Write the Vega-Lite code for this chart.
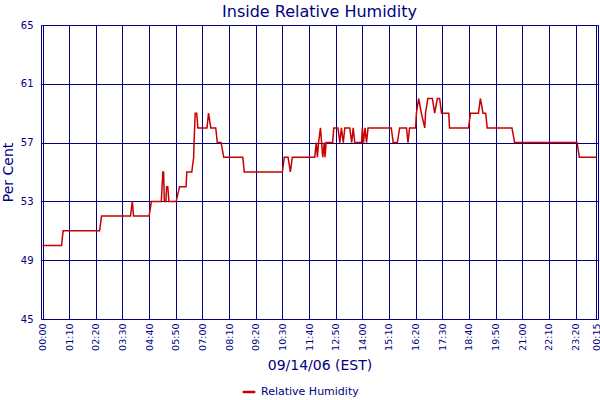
{
  "$schema": "https://vega.github.io/schema/vega-lite/v6.json",
  "background": "white",
  "autosize": "none",
  "padding": {"left": 41, "top": 25, "right": 2, "bottom": 81},
  "width": 557,
  "height": 294,
  "title": {
    "text": "Inside Relative Humidity",
    "font": "DejaVu Sans",
    "fontSize": 16,
    "fontWeight": "normal",
    "color": "#000080",
    "anchor": "middle",
    "offset": 0
  },
  "config": {
    "view": {"stroke": "#000080", "strokeWidth": 1},
    "axis": {
      "domain": false,
      "ticks": false,
      "gridColor": "#000080",
      "gridOpacity": 1,
      "gridWidth": 1,
      "labelColor": "#000080",
      "labelFont": "DejaVu Sans",
      "titleColor": "#000080",
      "titleFont": "DejaVu Sans",
      "titleFontWeight": "normal"
    }
  },
  "data": {
    "values": [
      {"t": "2006-09-14T00:00", "rh": 50},
      {"t": "2006-09-14T00:50", "rh": 50},
      {"t": "2006-09-14T00:54", "rh": 51},
      {"t": "2006-09-14T02:30", "rh": 51},
      {"t": "2006-09-14T02:35", "rh": 52},
      {"t": "2006-09-14T03:51", "rh": 52},
      {"t": "2006-09-14T03:56", "rh": 53},
      {"t": "2006-09-14T03:59", "rh": 52},
      {"t": "2006-09-14T04:40", "rh": 52},
      {"t": "2006-09-14T04:46", "rh": 53},
      {"t": "2006-09-14T05:12", "rh": 53},
      {"t": "2006-09-14T05:14", "rh": 54},
      {"t": "2006-09-14T05:16", "rh": 55},
      {"t": "2006-09-14T05:18", "rh": 55},
      {"t": "2006-09-14T05:20", "rh": 53},
      {"t": "2006-09-14T05:24", "rh": 53},
      {"t": "2006-09-14T05:26", "rh": 54},
      {"t": "2006-09-14T05:29", "rh": 54},
      {"t": "2006-09-14T05:32", "rh": 53},
      {"t": "2006-09-14T05:51", "rh": 53},
      {"t": "2006-09-14T06:00", "rh": 54},
      {"t": "2006-09-14T06:17", "rh": 54},
      {"t": "2006-09-14T06:19", "rh": 55},
      {"t": "2006-09-14T06:32", "rh": 55},
      {"t": "2006-09-14T06:37", "rh": 56},
      {"t": "2006-09-14T06:38", "rh": 57},
      {"t": "2006-09-14T06:41", "rh": 59},
      {"t": "2006-09-14T06:45", "rh": 59},
      {"t": "2006-09-14T06:48", "rh": 58},
      {"t": "2006-09-14T07:12", "rh": 58},
      {"t": "2006-09-14T07:16", "rh": 59},
      {"t": "2006-09-14T07:22", "rh": 58},
      {"t": "2006-09-14T07:35", "rh": 58},
      {"t": "2006-09-14T07:39", "rh": 57},
      {"t": "2006-09-14T07:49", "rh": 57},
      {"t": "2006-09-14T07:56", "rh": 56},
      {"t": "2006-09-14T08:46", "rh": 56},
      {"t": "2006-09-14T08:50", "rh": 55},
      {"t": "2006-09-14T10:30", "rh": 55},
      {"t": "2006-09-14T10:35", "rh": 56},
      {"t": "2006-09-14T10:45", "rh": 56},
      {"t": "2006-09-14T10:51", "rh": 55},
      {"t": "2006-09-14T10:56", "rh": 56},
      {"t": "2006-09-14T11:55", "rh": 56},
      {"t": "2006-09-14T11:59", "rh": 57},
      {"t": "2006-09-14T12:02", "rh": 56},
      {"t": "2006-09-14T12:05", "rh": 57},
      {"t": "2006-09-14T12:10", "rh": 58},
      {"t": "2006-09-14T12:13", "rh": 57},
      {"t": "2006-09-14T12:16", "rh": 56},
      {"t": "2006-09-14T12:20", "rh": 57},
      {"t": "2006-09-14T12:22", "rh": 56},
      {"t": "2006-09-14T12:25", "rh": 57},
      {"t": "2006-09-14T12:42", "rh": 57},
      {"t": "2006-09-14T12:45", "rh": 58},
      {"t": "2006-09-14T12:56", "rh": 58},
      {"t": "2006-09-14T13:01", "rh": 57},
      {"t": "2006-09-14T13:05", "rh": 58},
      {"t": "2006-09-14T13:10", "rh": 57},
      {"t": "2006-09-14T13:14", "rh": 58},
      {"t": "2006-09-14T13:27", "rh": 58},
      {"t": "2006-09-14T13:32", "rh": 57},
      {"t": "2006-09-14T13:36", "rh": 58},
      {"t": "2006-09-14T13:40", "rh": 57},
      {"t": "2006-09-14T13:58", "rh": 57},
      {"t": "2006-09-14T14:00", "rh": 58},
      {"t": "2006-09-14T14:03", "rh": 57},
      {"t": "2006-09-14T14:07", "rh": 58},
      {"t": "2006-09-14T14:11", "rh": 57},
      {"t": "2006-09-14T14:15", "rh": 58},
      {"t": "2006-09-14T15:16", "rh": 58},
      {"t": "2006-09-14T15:21", "rh": 57},
      {"t": "2006-09-14T15:32", "rh": 57},
      {"t": "2006-09-14T15:38", "rh": 58},
      {"t": "2006-09-14T15:56", "rh": 58},
      {"t": "2006-09-14T16:00", "rh": 57},
      {"t": "2006-09-14T16:04", "rh": 58},
      {"t": "2006-09-14T16:20", "rh": 58},
      {"t": "2006-09-14T16:22", "rh": 59},
      {"t": "2006-09-14T16:28", "rh": 60},
      {"t": "2006-09-14T16:35", "rh": 59},
      {"t": "2006-09-14T16:44", "rh": 58},
      {"t": "2006-09-14T16:46", "rh": 59},
      {"t": "2006-09-14T16:52", "rh": 60},
      {"t": "2006-09-14T17:04", "rh": 60},
      {"t": "2006-09-14T17:10", "rh": 59},
      {"t": "2006-09-14T17:17", "rh": 60},
      {"t": "2006-09-14T17:23", "rh": 60},
      {"t": "2006-09-14T17:28", "rh": 59},
      {"t": "2006-09-14T17:47", "rh": 59},
      {"t": "2006-09-14T17:49", "rh": 58},
      {"t": "2006-09-14T18:39", "rh": 58},
      {"t": "2006-09-14T18:44", "rh": 59},
      {"t": "2006-09-14T19:05", "rh": 59},
      {"t": "2006-09-14T19:10", "rh": 60},
      {"t": "2006-09-14T19:17", "rh": 59},
      {"t": "2006-09-14T19:24", "rh": 59},
      {"t": "2006-09-14T19:28", "rh": 58},
      {"t": "2006-09-14T20:33", "rh": 58},
      {"t": "2006-09-14T20:40", "rh": 57},
      {"t": "2006-09-14T23:24", "rh": 57},
      {"t": "2006-09-14T23:30", "rh": 56},
      {"t": "2006-09-15T00:15", "rh": 56}
    ]
  },
  "mark": {"type": "line", "strokeWidth": 1.5, "interpolate": "linear"},
  "encoding": {
    "x": {
      "field": "t",
      "type": "temporal",
      "title": "09/14/06 (EST)",
      "scale": {
        "nice": false,
        "domain": [
          {"year": 2006, "month": 9, "date": 13, "hours": 23, "minutes": 56},
          {"year": 2006, "month": 9, "date": 15, "hours": 0, "minutes": 19}
        ]
      },
      "axis": {
        "format": "%H:%M",
        "labelAngle": -90,
        "labelFontSize": 9.5,
        "labelPadding": 4,
        "labelOverlap": false,
        "titleFontSize": 14,
        "titlePadding": 8,
        "values": [
          {"year": 2006, "month": 9, "date": 14, "hours": 0, "minutes": 0},
          {"year": 2006, "month": 9, "date": 14, "hours": 1, "minutes": 10},
          {"year": 2006, "month": 9, "date": 14, "hours": 2, "minutes": 20},
          {"year": 2006, "month": 9, "date": 14, "hours": 3, "minutes": 30},
          {"year": 2006, "month": 9, "date": 14, "hours": 4, "minutes": 40},
          {"year": 2006, "month": 9, "date": 14, "hours": 5, "minutes": 50},
          {"year": 2006, "month": 9, "date": 14, "hours": 7, "minutes": 0},
          {"year": 2006, "month": 9, "date": 14, "hours": 8, "minutes": 10},
          {"year": 2006, "month": 9, "date": 14, "hours": 9, "minutes": 20},
          {"year": 2006, "month": 9, "date": 14, "hours": 10, "minutes": 30},
          {"year": 2006, "month": 9, "date": 14, "hours": 11, "minutes": 40},
          {"year": 2006, "month": 9, "date": 14, "hours": 12, "minutes": 50},
          {"year": 2006, "month": 9, "date": 14, "hours": 14, "minutes": 0},
          {"year": 2006, "month": 9, "date": 14, "hours": 15, "minutes": 10},
          {"year": 2006, "month": 9, "date": 14, "hours": 16, "minutes": 20},
          {"year": 2006, "month": 9, "date": 14, "hours": 17, "minutes": 30},
          {"year": 2006, "month": 9, "date": 14, "hours": 18, "minutes": 40},
          {"year": 2006, "month": 9, "date": 14, "hours": 19, "minutes": 50},
          {"year": 2006, "month": 9, "date": 14, "hours": 21, "minutes": 0},
          {"year": 2006, "month": 9, "date": 14, "hours": 22, "minutes": 10},
          {"year": 2006, "month": 9, "date": 14, "hours": 23, "minutes": 20},
          {"year": 2006, "month": 9, "date": 15, "hours": 0, "minutes": 15}
        ]
      }
    },
    "y": {
      "field": "rh",
      "type": "quantitative",
      "title": "Per Cent",
      "scale": {"domain": [45, 65], "nice": false, "zero": false},
      "axis": {
        "values": [45, 49, 53, 57, 61, 65],
        "labelFontSize": 10,
        "labelPadding": 8,
        "titleFontSize": 14,
        "titlePadding": 5
      }
    },
    "color": {
      "datum": "Relative Humidity",
      "scale": {"range": ["#c80000"]},
      "legend": {
        "title": null,
        "orient": "none",
        "legendX": 200,
        "legendY": 359,
        "symbolType": "stroke",
        "symbolSize": 160,
        "symbolStrokeWidth": 2.5,
        "labelFont": "DejaVu Sans",
        "labelFontSize": 11,
        "labelColor": "#000080",
        "labelOffset": 4
      }
    }
  }
}
